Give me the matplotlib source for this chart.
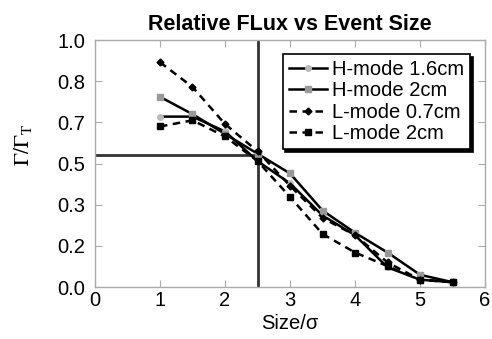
import matplotlib
matplotlib.use("Agg")
import matplotlib.pyplot as plt
import numpy as np

plt.rcParams['font.family'] = ['Liberation Sans', 'DejaVu Sans']
plt.rcParams['mathtext.fontset'] = 'stix'

# Event size (in units of sigma)
size = [1.0, 1.5, 2.0, 2.5, 3.0, 3.5, 4.0, 4.5, 5.0, 5.5]

# Relative flux for each discharge / radial position
h_mode_16 = [0.69, 0.69, 0.63, 0.51, 0.42, 0.29, 0.21, 0.08, 0.03, 0.02]
h_mode_2 = [0.77, 0.70, 0.62, 0.54, 0.46, 0.31, 0.22, 0.14, 0.05, 0.02]
l_mode_07 = [0.91, 0.81, 0.66, 0.55, 0.41, 0.28, 0.21, 0.10, 0.03, 0.02]
l_mode_2 = [0.65, 0.675, 0.61, 0.51, 0.365, 0.215, 0.14, 0.085, 0.03, 0.02]

# Crossing reference lines
ref_size = 2.5
ref_flux = 0.535

y_ticks = [k / 6 for k in range(7)]
x_ticks = [0, 1, 2, 3, 4, 5, 6]

fig = plt.figure(figsize=(4.92, 3.39), dpi=100)
ax = fig.add_axes([0.193, 0.153, 0.793, 0.729])

ax.axvline(ref_size, color='#333333', lw=2.0, zorder=1)
ax.plot([0, ref_size], [ref_flux, ref_flux], color='#333333', lw=2.0, zorder=1)

ax.plot(size, h_mode_16, '-', color='black', lw=1.8, marker='o', ms=4,
        mfc='#bbbbbb', mec='#bbbbbb', label='H-mode 1.6cm', zorder=3)
ax.plot(size, h_mode_2, '-', color='black', lw=1.8, marker='s', ms=4,
        mfc='#999999', mec='#999999', label='H-mode 2cm', zorder=3)
ax.plot(size, l_mode_07, '--', color='black', lw=1.8, dashes=(3, 2.2), marker='D', ms=3.5,
        mfc='black', mec='black', label='L-mode 0.7cm', zorder=3)
ax.plot(size, l_mode_2, '--', color='black', lw=1.8, dashes=(3, 2.2), marker='s', ms=5,
        mfc='black', mec='black', label='L-mode 2cm', zorder=3)

ax.set_xlim(0, 6)
ax.set_ylim(0, 1)
ax.set_xticks(x_ticks)
ax.set_yticks(y_ticks)
ax.set_yticklabels([f'{v:.1f}' for v in y_ticks])
ax.tick_params(direction='in', length=5, color='#aaaaaa', labelsize=14.5,
               top=True, right=True)
ax.tick_params(axis='y', pad=7)
ax.tick_params(axis='x', pad=3)
for s in ax.spines.values():
    s.set_color('#aaaaaa')
    s.set_linewidth(1.0)

ax.set_xlabel('Size/σ', fontsize=14.5, labelpad=3)
ax.set_ylabel(r'$\Gamma/\Gamma_{\rm T}$', fontsize=15.5)
ax.yaxis.set_label_coords(-0.155, 0.575)
ax.set_title('Relative FLux vs Event Size', fontsize=15.5, fontweight='bold', pad=7)

leg = ax.legend(loc='upper right', bbox_to_anchor=(0.972, 0.96), fontsize=14.5,
                frameon=True, fancybox=False, edgecolor='black',
                shadow={'color': 'black', 'alpha': 1.0},
                handlelength=1.9, handletextpad=0.25, borderpad=0.3,
                labelspacing=0.12, borderaxespad=0.2)
leg.get_frame().set_linewidth(1.2)

fig.savefig('out.png', dpi=100)
